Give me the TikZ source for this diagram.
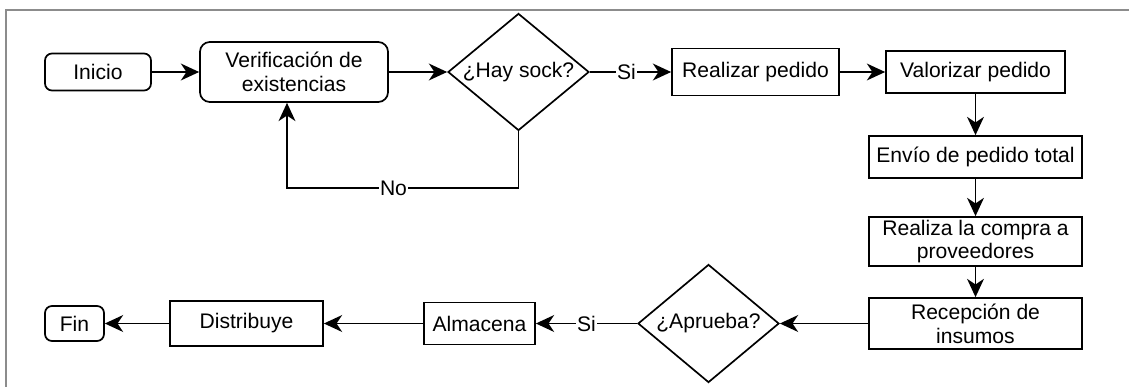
\documentclass[tikz,border=0pt]{standalone}
\usepackage{fontspec}
\setmainfont{Liberation Sans}
\usetikzlibrary{arrows.meta,shapes.geometric}
\begin{document}
\begin{tikzpicture}[x=0.025cm,y=-0.025cm,
  every node/.style={font=\fontsize{15}{17}\selectfont, align=center},
  box/.style={draw, line width=1.2pt, inner sep=0pt},
  rbox/.style={box, rounded corners=5pt},
  dia/.style={draw, line width=1.2pt, shape=diamond, inner sep=0pt, aspect=1},
  arr/.style={line width=1.2pt, -{Stealth[length=13pt,width=12pt,inset=4pt]}},
  lab/.style={fill=white, inner sep=1pt}]
\useasboundingbox (0,0) rectangle (1129,387);
\draw[line width=1.4pt, color=black!45] (6,390) -- (6,10) -- (1132,10);

\node[rbox, minimum width=2.65cm, minimum height=0.925cm] (ini) at (98,72) {Inicio};
\node[rbox, rounded corners=7pt, minimum width=4.7cm, minimum height=1.5cm] (ver) at (294,72) {Verificación de\\existencias};
\node[dia, minimum width=3.525cm, minimum height=2.925cm, label=center:{¿Hay sock?}] (d1) at (518.5,72) {};
\node[box, minimum width=4.175cm, minimum height=1.175cm] (rp) at (755.5,72) {Realizar pedido};
\node[box, minimum width=4.475cm, minimum height=1.05cm] (vp) at (975.5,72) {Valorizar pedido};
\node[box, minimum width=5.325cm, minimum height=1.05cm] (env) at (975.5,157) {Envío de pedido total};
\node[box, minimum width=5.325cm, minimum height=1.225cm] (rc) at (975.5,241.5) {Realiza la compra a\\proveedores};
\node[box, minimum width=5.325cm, minimum height=1.275cm] (rec) at (975.5,323.5) {Recepción de\\insumos};
\node[dia, minimum width=3.525cm, minimum height=2.95cm, label=center:{¿Aprueba?}] (d2) at (708.5,323.5) {};
\node[box, minimum width=2.775cm, minimum height=1.05cm] (alm) at (479.5,323.5) {Almacena};
\node[box, minimum width=3.825cm, minimum height=1.125cm] (dis) at (246.5,323.5) {Distribuye};
\node[rbox, minimum width=1.475cm, minimum height=0.875cm] (fin) at (74.5,323.5) {Fin};

\coordinate (c1) at (287,188);

\draw[arr] (ini) -- (ver);
\draw[arr] (ver.east) -- (d1.west);
\draw[arr] (d1.east) -- node[lab, pos=0.45]{Si} (rp.west);
\draw[arr] (d1.south) |- node[lab, pos=0.77]{No} (c1) -- (ver.south -| c1);
\draw[arr] (rp) -- (vp);
\draw[arr] (vp) -- (env);
\draw[arr] (env) -- (rc);
\draw[arr] (rc) -- (rec);
\draw[arr] (rec.west) -- (d2.east);
\draw[arr] (d2.west) -- node[lab, pos=0.5]{Si} (alm.east);
\draw[arr] (alm) -- (dis);
\draw[arr] (dis) -- (fin);
\end{tikzpicture}
\end{document}
